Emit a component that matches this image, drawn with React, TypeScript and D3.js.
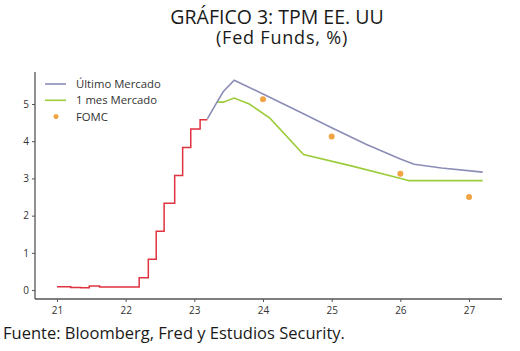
import React, { useEffect, useRef } from 'react';
import * as d3 from 'd3';

// Fed funds effective rate (step series), year as decimal (21 = 2021)
const histYears = [21.0, 21.2, 21.35, 21.47, 21.62, 22.197, 22.33, 22.445, 22.56, 22.714, 22.83, 22.948, 23.084, 23.19];
const histRates = [0.09, 0.07, 0.06, 0.11, 0.08, 0.33, 0.83, 1.58, 2.33, 3.08, 3.83, 4.33, 4.58, 4.58];

// market implied path, latest
const lastYears = [23.19, 23.33, 23.42, 23.58, 24.0, 24.5, 25.0, 25.5, 26.0, 26.2, 26.6, 27.2];
const lastRates = [4.6, 5.05, 5.33, 5.64, 5.27, 4.82, 4.36, 3.92, 3.52, 3.38, 3.28, 3.17];

// market implied path, 1 month ago
const monthYears = [23.33, 23.42, 23.58, 23.8, 24.1, 24.59, 25.3, 26.05, 26.12, 27.2];
const monthRates = [5.05, 5.05, 5.16, 5.0, 4.62, 3.64, 3.33, 2.98, 2.94, 2.94];

// FOMC dot plot medians
const fomcYears = [24, 25, 26, 27];
const fomcRates = [5.125, 4.125, 3.125, 2.5];

const xTicks = [21, 22, 23, 24, 25, 26, 27];
const yTicks = [0, 1, 2, 3, 4, 5];

const RED = '#e0323f';
const BLUE = '#8b8db7';
const GREEN = '#9ccc3a';
const ORANGE = '#f2a444';
const FONT = "'Open Sans', sans-serif";

const App = () => {
    const svgRef = useRef<SVGSVGElement>(null);

    useEffect(() => {
        const svg = d3.select(svgRef.current);
        svg.selectAll('*').remove();

        const left = 35, right = 502, top = 72, bottom = 299;

        const x = d3.scaleLinear().domain([20.68, 27.48]).range([left, right]);
        const y = d3.scaleLinear().domain([-0.24, 5.86]).range([bottom, top]);

        // title
        const title = svg.append('g')
            .attr('font-family', FONT)
            .attr('fill', '#1a1a1a')
            .attr('text-anchor', 'middle');
        title.append('text')
            .attr('x', 277).attr('y', 24)
            .style('font-size', '19.5px')
            .text('GRÁFICO 3: TPM EE. UU');
        title.append('text')
            .attr('x', 282).attr('y', 44)
            .style('font-size', '18px')
            .style('letter-spacing', '0.8px')
            .text('(Fed Funds, %)');

        // axes
        const xAxis = svg.append('g')
            .attr('transform', `translate(0,${bottom})`)
            .call(d3.axisBottom(x).tickValues(xTicks).tickSize(3).tickSizeOuter(0).tickFormat(d3.format('d')));
        const yAxis = svg.append('g')
            .attr('transform', `translate(${left},0)`)
            .call(d3.axisLeft(y).tickValues(yTicks).tickSize(3).tickSizeOuter(0).tickFormat(d3.format('d')));

        [xAxis, yAxis].forEach(ax => {
            ax.select('.domain').attr('stroke', '#555').attr('stroke-width', 1.3);
            ax.selectAll('.tick line').attr('stroke', '#555');
            ax.selectAll('.tick text')
                .attr('fill', '#333')
                .style('font-family', FONT)
                .style('font-size', '10px');
        });
        xAxis.select('.domain').attr('d', `M${left},0H${right}`);
        yAxis.select('.domain').attr('d', `M0,${top}V${bottom}`);
        xAxis.selectAll('.tick text').attr('dy', '0.9em');
        yAxis.selectAll('.tick text').attr('x', -6);

        const hist = histYears.map((v, i) => [v, histRates[i]] as [number, number]);
        const last = lastYears.map((v, i) => [v, lastRates[i]] as [number, number]);
        const month = monthYears.map((v, i) => [v, monthRates[i]] as [number, number]);

        const stepLine = d3.line().x(d => x(d[0])).y(d => y(d[1])).curve(d3.curveStepAfter);
        const line = d3.line().x(d => x(d[0])).y(d => y(d[1]));

        svg.append('path')
            .attr('d', line(month))
            .attr('fill', 'none')
            .attr('stroke', GREEN)
            .attr('stroke-width', 1.6);

        svg.append('path')
            .attr('d', line(last))
            .attr('fill', 'none')
            .attr('stroke', BLUE)
            .attr('stroke-width', 1.6);

        svg.append('path')
            .attr('d', stepLine(hist))
            .attr('fill', 'none')
            .attr('stroke', RED)
            .attr('stroke-width', 1.5);

        svg.append('g')
            .selectAll('circle')
            .data(fomcYears)
            .enter()
            .append('circle')
            .attr('cx', d => x(d))
            .attr('cy', (d, i) => y(fomcRates[i]))
            .attr('r', 3)
            .attr('fill', ORANGE);

        // legend
        const legend = svg.append('g')
            .attr('font-family', FONT)
            .style('font-size', '11.3px')
            .attr('fill', '#333');
        const items = [
            { label: 'Último Mercado', color: BLUE, type: 'line' },
            { label: '1 mes Mercado', color: GREEN, type: 'line' },
            { label: 'FOMC', color: ORANGE, type: 'dot' },
        ];
        items.forEach((it, i) => {
            const cy = 84 + i * 16.3;
            if (it.type === 'line') {
                legend.append('line')
                    .attr('x1', 45).attr('x2', 66)
                    .attr('y1', cy).attr('y2', cy)
                    .attr('stroke', it.color)
                    .attr('stroke-width', 1.6);
            } else {
                legend.append('circle')
                    .attr('cx', 56).attr('cy', cy)
                    .attr('r', 2.5)
                    .attr('fill', it.color);
            }
            legend.append('text')
                .attr('x', 76).attr('y', cy + 4)
                .text(it.label);
        });

        // source
        svg.append('text')
            .attr('x', 3).attr('y', 339)
            .attr('font-family', FONT)
            .attr('fill', '#1a1a1a')
            .style('font-size', '16.5px')
            .text('Fuente: Bloomberg, Fred y Estudios Security.');
    }, []);

    return (
        <svg ref={svgRef} width={520} height={351}
            style={{ position: 'absolute', left: 0, top: 0, background: '#fff' }} />
    );
};

export default App;
